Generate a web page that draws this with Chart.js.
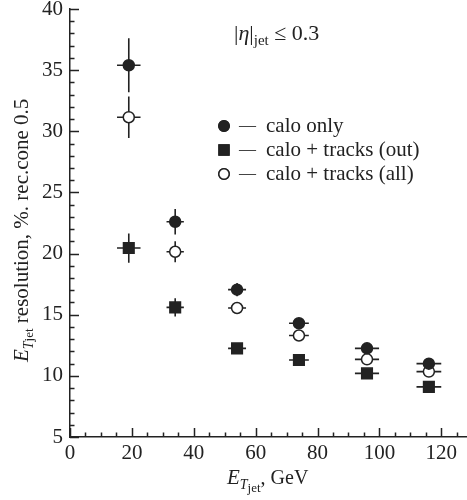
<!DOCTYPE html>
<html>
<head>
<meta charset="utf-8">
<script src="https://cdn.jsdelivr.net/npm/chart.js@4/dist/chart.umd.min.js"></script>
<style>
  html, body { margin: 0; background: #fff; }
</style>
</head>
<body>
<canvas id="resChart" width="467" height="500"></canvas>
<script>
// E_T jet bins (GeV) and half-widths
const energies = [19, 34, 54, 74, 96, 116]
const energyErr = [3.8, 2.8, 2.9, 3.2, 3.9, 4.0]

// resolution, %
const caloOnly = [35.4, 22.6, 17.05, 14.3, 12.25, 11.0]
const caloOnlyErr = [2.2, 1.05, 0.55, 0.3, 0.3, 0.3]
const tracksOut = [20.45, 15.6, 12.25, 11.3, 10.2, 9.1]
const tracksOutErr = [1.2, 0.75, 0.3, 0.3, 0.3, 0.3]
const tracksAll = [31.15, 20.15, 15.55, 13.3, 11.35, 10.35]
const tracksAllErr = [1.7, 0.85, 0.4, 0.3, 0.3, 0.3]

const xTicks = [0, 20, 40, 60, 80, 100, 120]
const yTicks = [5, 10, 15, 20, 25, 30, 35, 40]

const serif = '"Liberation Serif", "DejaVu Serif", serif'
const ink = '#222'

const toPoints = (ys, yerr) => ys.map((y, i) => ({ x: energies[i], y, xerr: energyErr[i], yerr: yerr[i] }))

const series = [
    { label: 'calo only', data: toPoints(caloOnly, caloOnlyErr), pointStyle: 'circle', pointRadius: 5.5, backgroundColor: ink },
    { label: 'calo + tracks (out)', data: toPoints(tracksOut, tracksOutErr), pointStyle: 'rect', pointRadius: 7.5, backgroundColor: ink },
    { label: 'calo + tracks (all)', data: toPoints(tracksAll, tracksAllErr), pointStyle: 'circle', pointRadius: 5.5, backgroundColor: '#fff' }
]

// error bars, inward ticks, legend and the sub-scripted titles
const decorations = {
    id: 'decorations',
    beforeDatasetsDraw(chart) {
        const { ctx, scales: { x, y } } = chart
        ctx.save()
        ctx.strokeStyle = ink
        ctx.lineWidth = 1.6
        chart.data.datasets.forEach(ds => {
            ds.data.forEach(p => {
                const px = x.getPixelForValue(p.x), py = y.getPixelForValue(p.y)
                ctx.beginPath()
                ctx.moveTo(x.getPixelForValue(p.x - p.xerr), py)
                ctx.lineTo(x.getPixelForValue(p.x + p.xerr), py)
                ctx.moveTo(px, y.getPixelForValue(p.y - p.yerr))
                ctx.lineTo(px, y.getPixelForValue(p.y + p.yerr))
                ctx.stroke()
            })
        })
        ctx.restore()
    },
    afterDraw(chart) {
        const { ctx, chartArea: area, scales: { x, y } } = chart
        ctx.save()
        ctx.strokeStyle = ink
        ctx.lineWidth = 1.5
        ctx.beginPath()
        for (let v = 5; v <= 40; v++) {
            const py = Math.round(y.getPixelForValue(v)) + 0.5
            ctx.moveTo(area.left, py)
            ctx.lineTo(area.left + (v % 5 === 0 ? 9 : 4.5), py)
        }
        for (let v = 0; v <= 125; v += 5) {
            const px = Math.round(x.getPixelForValue(v)) + 0.5
            ctx.moveTo(px, area.bottom)
            ctx.lineTo(px, area.bottom - (v % 20 === 0 ? 9 : 4.5))
        }
        ctx.stroke()

        // legend
        ctx.fillStyle = ink
        ctx.textBaseline = 'middle'
        const rows = [126, 150, 174]
        series.forEach((s, i) => {
            Chart.helpers.drawPoint(ctx, {
                pointStyle: s.pointStyle,
                radius: s.pointStyle === 'rect' ? 7 : 5.2,
                borderWidth: 1.5
            }, 224, rows[i])
            ctx.fillStyle = s.backgroundColor
            ctx.strokeStyle = ink
            ctx.lineWidth = 1.5
            ctx.fill()
            ctx.stroke()
            ctx.fillStyle = ink
            ctx.font = '17px ' + serif
            ctx.fillText('\u2014', 239, rows[i])
            ctx.font = '21px ' + serif
            ctx.fillText(s.label, 266, rows[i])
        })

        const pieces = (parts, x0, y0) => {
            let cx = x0
            parts.forEach(([txt, font, dy]) => {
                ctx.font = font
                ctx.fillText(txt, cx, y0 + dy)
                cx += ctx.measureText(txt).width
            })
            return cx
        }
        ctx.textBaseline = 'alphabetic'

        // |eta|_jet <= 0.3
        pieces([
            ['|', '22px ' + serif, 0],
            ['\u03b7', 'italic 22px ' + serif, 0],
            ['|', '22px ' + serif, 0],
            ['jet', '15px ' + serif, 5],
            [' \u2264 0.3', '22px ' + serif, 0]
        ], 234, 40)

        // x title
        pieces([
            ['E', 'italic 21px ' + serif, 0],
            ['T', 'italic 14px ' + serif, 5],
            ['jet', '13px ' + serif, 8],
            [', GeV', '20px ' + serif, 0]
        ], 227, 484)

        // y title
        ctx.translate(28, 362)
        ctx.rotate(-Math.PI / 2)
        pieces([
            ['E', 'italic 21px ' + serif, 0],
            ['T', 'italic 14px ' + serif, 5],
            ['jet', '13px ' + serif, 5],
            [' resolution, %. rec.cone 0.5', '21px ' + serif, 0]
        ], 0, 0)
        ctx.restore()
    }
}

new Chart(document.getElementById('resChart'), {
    type: 'scatter',
    data: {
        datasets: series.map(s => ({
            label: s.label,
            data: s.data,
            showLine: false,
            pointStyle: s.pointStyle,
            pointRadius: s.pointRadius,
            pointHoverRadius: s.pointRadius,
            backgroundColor: s.backgroundColor,
            borderColor: ink,
            borderWidth: 1.5
        }))
    },
    options: {
        responsive: false,
        animation: false,
        layout: { autoPadding: false, padding: { top: 9, right: 1, left: 0, bottom: 0 } },
        plugins: {
            legend: { display: false },
            tooltip: { enabled: false }
        },
        scales: {
            x: {
                type: 'linear',
                min: 0,
                max: 128,
                afterBuildTicks: s => { s.ticks = xTicks.map(v => ({ value: v })) },
                afterFit: s => {
                    s.height = 63
                    s.paddingLeft = 0
                    s.paddingRight = 0
                },
                grid: { display: false, drawTicks: false },
                border: { display: true, color: ink, width: 1.5 },
                ticks: { color: ink, padding: 4, maxRotation: 0, font: { family: serif, size: 21 } }
            },
            y: {
                type: 'linear',
                min: 5,
                max: 40,
                afterBuildTicks: s => { s.ticks = yTicks.map(v => ({ value: v })) },
                afterFit: s => {
                    s.width = 70
                    s.paddingTop = 0
                    s.paddingBottom = 0
                },
                grid: { display: false, drawTicks: false },
                border: { display: true, color: ink, width: 1.5 },
                ticks: { color: ink, padding: 7, font: { family: serif, size: 21 } }
            }
        }
    },
    plugins: [decorations]
})
</script>
</body>
</html>
